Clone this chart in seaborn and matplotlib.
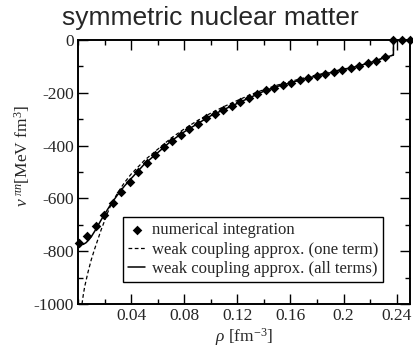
import numpy as np
import pandas as pd
import matplotlib
matplotlib.use("Agg")
import matplotlib.pyplot as plt
import seaborn as sns
from matplotlib.ticker import MultipleLocator, FixedLocator

# numerical integration points
rho_pts = [0.0004, 0.0068, 0.0132, 0.0196, 0.0260, 0.0324, 0.0388, 0.0452, 0.0516, 0.0580,
           0.0644, 0.0708, 0.0772, 0.0836, 0.0900, 0.0964, 0.1028, 0.1092, 0.1156, 0.1220,
           0.1284, 0.1348, 0.1412, 0.1476, 0.1540, 0.1604, 0.1668, 0.1732, 0.1796, 0.1860,
           0.1924, 0.1988, 0.2052, 0.2116, 0.2180, 0.2244, 0.2308, 0.2372, 0.2436, 0.2500]
v_pts = [-768, -742, -705, -662, -616, -575, -536, -500, -467, -436,
         -406, -381, -359, -337, -317, -297, -280, -265, -250, -235,
         -220, -205, -191, -180, -170, -161, -152, -144, -136, -129,
         -121, -114, -106, -98, -89, -79, -66, 0, 0, 0]

# weak coupling approx. (all terms)
rho_all = [0.0, 0.002, 0.004, 0.006, 0.008, 0.010, 0.0125, 0.015, 0.0175, 0.020, 0.025, 0.030,
           0.035, 0.040, 0.050, 0.060, 0.070, 0.080, 0.090, 0.100, 0.110, 0.120, 0.130, 0.140,
           0.150, 0.160, 0.170, 0.180, 0.190, 0.200, 0.210, 0.220, 0.230, 0.2375, 0.2376, 0.250]
v_all = [-765, -773, -774, -768, -758, -745, -725, -703, -681, -660, -620, -585,
         -553, -525, -470, -427, -383, -348, -317, -287, -263, -240, -217, -194,
         -176, -162, -148, -136, -124, -112, -100, -86, -68, -57, 0, 0]

# weak coupling approx. (one term)
rho_one = [0.003, 0.004, 0.005, 0.0075, 0.010, 0.0125, 0.015, 0.0175, 0.020, 0.0225, 0.025, 0.030,
           0.035, 0.040, 0.050, 0.060, 0.070, 0.080, 0.090, 0.100, 0.110, 0.120, 0.130, 0.140,
           0.150, 0.160, 0.170, 0.180, 0.190, 0.200, 0.210, 0.220, 0.230, 0.2375, 0.2376, 0.250]
v_one = [-1000, -965, -935, -880, -832, -792, -755, -718, -685, -652, -622, -578,
         -540, -508, -456, -414, -372, -337, -305, -277, -252, -229, -207, -188,
         -171, -157, -144, -132, -121, -110, -99, -86, -68, -57, 0, 0]

x_ticks = [0.04, 0.08, 0.12, 0.16, 0.20, 0.24]
x_ticklabels = ["0.04", "0.08", "0.12", "0.16", "0.2", "0.24"]
y_ticks = [0, -200, -400, -600, -800, -1000]
y_ticklabels = ["0", "-200", "-400", "-600", "-800", "-1000"]

sns.set_style("ticks")
plt.rcParams['font.family'] = ['Liberation Serif', 'DejaVu Serif']
plt.rcParams['mathtext.fontset'] = 'custom'
plt.rcParams['mathtext.rm'] = 'Liberation Serif'
plt.rcParams['mathtext.it'] = 'Liberation Serif:italic'

fig = plt.figure(figsize=(4.14, 3.47), dpi=100)
ax = fig.add_axes([78/414, 1-304/347, 332/414, 264/347])

df_pts = pd.DataFrame({"rho": rho_pts, "v": v_pts})
df_all = pd.DataFrame({"rho": rho_all, "v": v_all})
df_one = pd.DataFrame({"rho": rho_one, "v": v_one})

sns.scatterplot(data=df_pts, x="rho", y="v", ax=ax, marker="D", s=24, color="black",
                edgecolor="black", linewidth=0, label="numerical integration", zorder=3, clip_on=False)
sns.lineplot(data=df_one, x="rho", y="v", ax=ax, color="black", lw=0.9, linestyle=(0, (3, 2)),
             label="weak coupling approx. (one term)", sort=False)
sns.lineplot(data=df_all, x="rho", y="v", ax=ax, color="black", lw=1.1,
             label="weak coupling approx. (all terms)", sort=False)

ax.set_xlim(0, 0.25)
ax.set_ylim(-1000, 0)
ax.xaxis.set_major_locator(FixedLocator(x_ticks))
ax.set_xticklabels(x_ticklabels)
ax.yaxis.set_major_locator(FixedLocator(y_ticks))
ax.set_yticklabels(y_ticklabels)
ax.xaxis.set_minor_locator(MultipleLocator(0.02))
ax.yaxis.set_minor_locator(MultipleLocator(100))
ax.tick_params(which='both', direction='in', top=True, right=True, color='black', width=1)
ax.tick_params(which='major', length=7, labelsize=12.5, pad=3)
ax.tick_params(which='minor', length=3.5)
for s in ax.spines.values():
    s.set_linewidth(1.4)
    s.set_color('black')

ax.set_xlabel(r'$\rho$ [fm$^{-3}$]', fontsize=12.5)
ax.set_ylabel(r'$v^{\ \pi n}$[MeV fm$^{3}$]', fontsize=12.5)
ax.xaxis.set_label_coords(0.5, -0.082)
ax.yaxis.set_label_coords(-0.14, 0.56)

leg = ax.legend(loc='lower left', bbox_to_anchor=(0.137, 0.083), fontsize=12, frameon=True,
                fancybox=False, framealpha=1, edgecolor='black', handlelength=1.0,
                handletextpad=0.4, labelspacing=0.2, borderpad=0.3, borderaxespad=0)
leg.get_frame().set_linewidth(1.0)

fig.text(0.507, 1-25/347, "symmetric nuclear matter", ha='center', va='baseline',
         fontsize=19, family=['Liberation Sans', 'DejaVu Sans'])

fig.savefig("out.png", dpi=100)
